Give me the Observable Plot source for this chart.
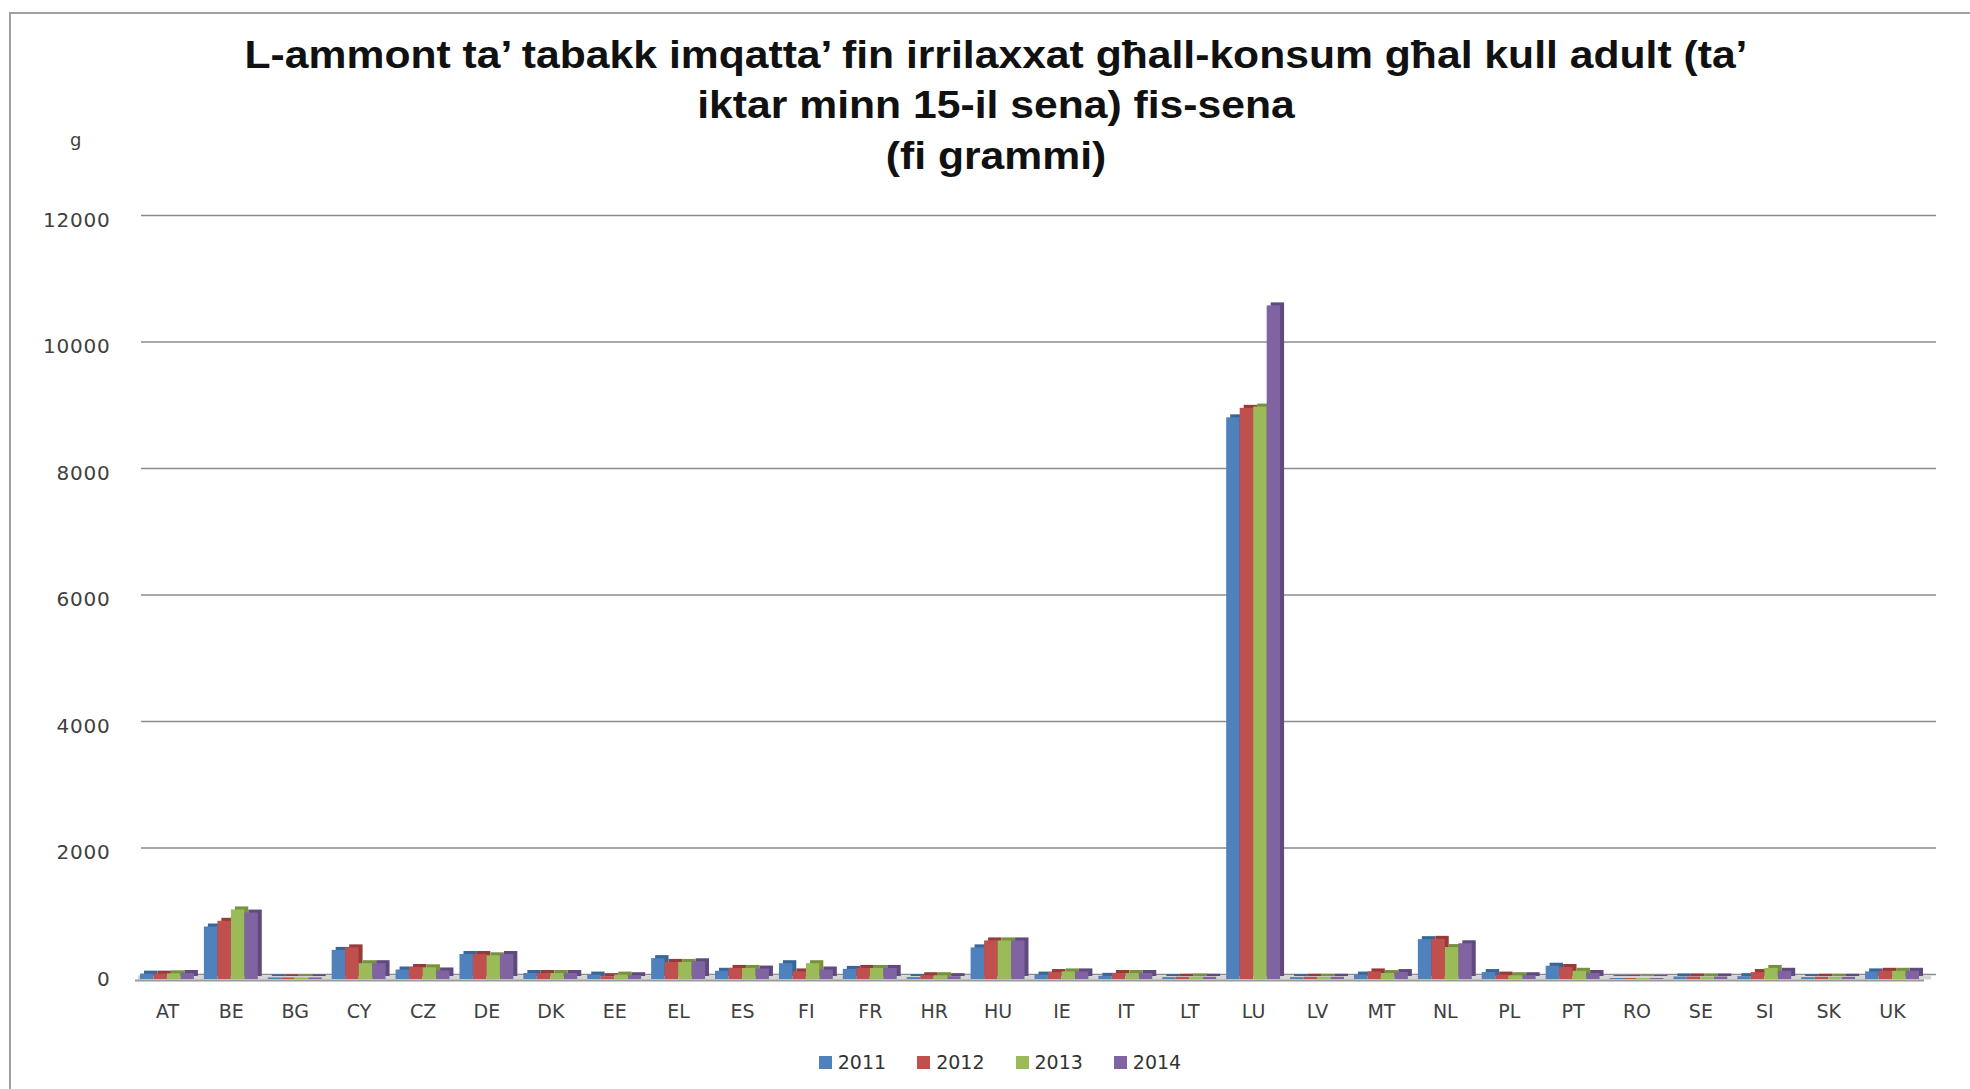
<!DOCTYPE html>
<html><head><meta charset="utf-8">
<script src="https://cdn.jsdelivr.net/npm/d3@7"></script>
<script src="https://cdn.jsdelivr.net/npm/@observablehq/plot@0.6"></script>
<style>
body{margin:0;background:#fff;width:1970px;height:1089px;overflow:hidden;position:relative;font-family:"DejaVu Sans",sans-serif;}
#frame{position:absolute;left:9px;top:12px;width:1962px;height:1080px;border-left:2px solid #a0a0a0;border-top:2px solid #a0a0a0;}
.tl{position:absolute;left:996px;white-space:nowrap;font:bold 39px "Liberation Sans",Arial,sans-serif;color:#111;line-height:50px;transform-origin:center center;}
#gl{position:absolute;left:70px;top:129px;font-size:18px;color:#404040;}
#chart{position:absolute;left:0;top:190px;}
#legend{position:absolute;top:1051px;left:0;width:2000px;display:flex;justify-content:center;gap:31px;font-size:19px;color:#333;}
.li{display:flex;align-items:center;gap:6px;}
.sw{width:13px;height:13px;display:inline-block;}
g[aria-label="y-axis tick label"]{font-size:20px;letter-spacing:0.8px;}
</style></head>
<body>
<div id="frame"></div>
<div class="tl" id="t1" style="top:30px">L-ammont ta’ tabakk imqatta’ fin irrilaxxat għall-konsum għal kull adult (ta’</div>
<div class="tl" id="t2" style="top:80px">iktar minn 15-il sena) fis-sena</div>
<div class="tl" id="t3" style="top:131px">(fi grammi)</div>
<div id="gl">g</div>
<div id="chart"></div>
<div id="legend"></div>
<script>
const countries = ["AT","BE","BG","CY","CZ","DE","DK","EE","EL","ES","FI","FR","HR","HU","IE","IT","LT","LU","LV","MT","NL","PL","PT","RO","SE","SI","SK","UK"];
const years = ["2011","2012","2013","2014"];
const v2011 = [85,830,25,460,150,395,95,70,330,130,250,160,30,500,70,50,30,8880,30,70,630,110,210,15,40,45,30,120];
const v2012 = [85,920,25,500,190,395,95,45,270,175,120,175,60,610,110,95,35,9030,35,120,635,70,190,15,40,110,35,130];
const v2013 = [90,1100,25,250,185,375,95,70,270,175,250,175,60,610,120,95,40,9050,35,95,505,60,130,15,40,175,35,130];
const v2014 = [95,1050,25,250,135,395,95,60,280,165,150,175,45,610,120,95,35,10650,35,110,565,60,95,15,40,130,35,130];
const yTicks = [0,2000,4000,6000,8000,10000,12000];
const colors = ["#4F81BD","#C0504D","#9BBB59","#8064A2"];
const darks = ["#3A6597","#953B39","#77923F","#5F4A7D"];

const series = [v2011,v2012,v2013,v2014];
const data = [];
countries.forEach((c,i)=>years.forEach((y,j)=>data.push({country:c,year:y,value:series[j][i]})));

const barW = 13.5, side = 5;
const barMarks = [];
years.forEach((y,j)=>{
  const sub = data.filter(d=>d.year===y);
  const ins = {insetLeft: side + j*barW, insetRight: side + (3-j)*barW};
  barMarks.push(Plot.barY(sub,{x:"country",y:"value",fill:darks[j],dx:4,dy:-3,...ins}));
  barMarks.push(Plot.barY(sub,{x:"country",y:"value",fill:colors[j],...ins}));
});

const chart = Plot.plot({
  width:1970, height:840,
  marginLeft:135, marginRight:46, marginTop:30, marginBottom:51,
  style:{fontFamily:"DejaVu Sans, sans-serif",fontSize:"19px",color:"#404040",background:"transparent"},
  x:{domain:countries,padding:0,round:false,tickSize:0,tickPadding:25,label:null},
  y:{domain:[0,12000],ticks:yTicks,tickFormat:d3.format("d"),tickSize:0,tickPadding:25,label:null},
  marks:[
    Plot.ruleY(yTicks,{stroke:"#8c8c8c",strokeWidth:1.5,dx:6,dy:-5,insetRight:-6}),
    Plot.ruleY([0],{stroke:"#d4d4d4",strokeWidth:4,dx:3,dy:-2,insetRight:-4}),
    Plot.ruleY([0],{stroke:"#9a9a9a",strokeWidth:2,dy:1}),
    ...barMarks
  ]
});
document.getElementById("chart").appendChild(chart);

const leg = document.getElementById("legend");
years.forEach((y,j)=>{
  const it = document.createElement("div"); it.className="li";
  const s = document.createElement("span"); s.className="sw"; s.style.background=colors[j];
  const t = document.createElement("span"); t.textContent=y;
  it.appendChild(s); it.appendChild(t); leg.appendChild(it);
});

const t1 = document.getElementById("t1");
const k = 1503 / t1.offsetWidth;
["t1","t2","t3"].forEach(id=>{
  const el=document.getElementById(id);
  el.style.transform = `translateX(-50%) scaleX(${k})`;
});
</script>
</body></html>
